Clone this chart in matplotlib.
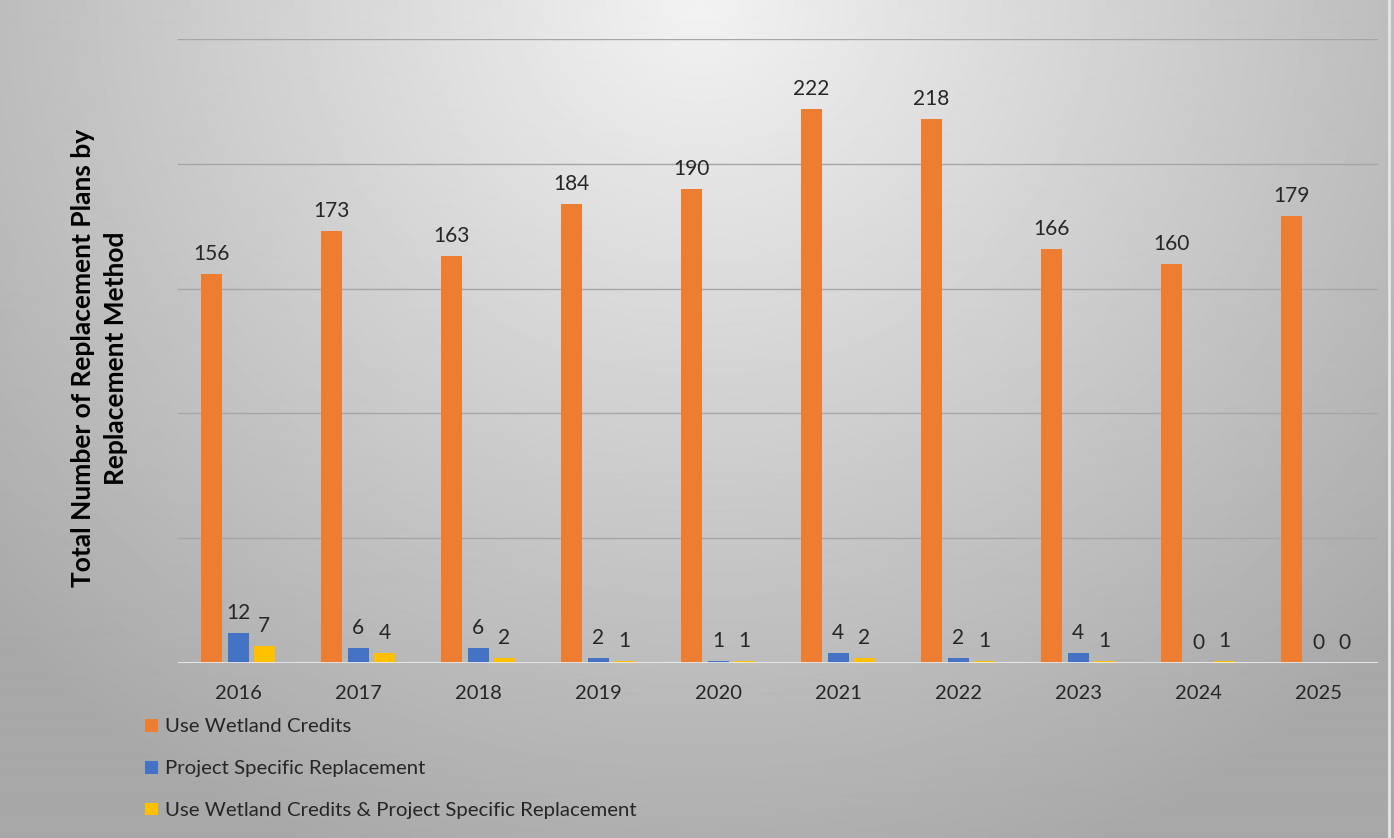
import numpy as np
import matplotlib.pyplot as plt

years = ["2016", "2017", "2018", "2019", "2020", "2021", "2022", "2023", "2024", "2025"]
wetland_credits = [156, 173, 163, 184, 190, 222, 218, 166, 160, 179]
project_specific = [12, 6, 6, 2, 1, 4, 2, 4, 0, 0]
both_methods = [7, 4, 2, 1, 1, 2, 1, 1, 1, 0]

series = [
    ("Use Wetland Credits", wetland_credits, "#ED7D31"),
    ("Project Specific Replacement", project_specific, "#4472C4"),
    ("Use Wetland Credits & Project Specific Replacement", both_methods, "#FFC000"),
]

plt.rcParams['font.family'] = ['Lato', 'DejaVu Sans']

fig = plt.figure(figsize=(13.94, 8.38), dpi=100)

# radial grey background
bg = fig.add_axes([0, 0, 1, 1], zorder=-10)
yy, xx = np.mgrid[0:838, 0:1394]
r = np.sqrt(((xx - 700) / 1000.0) ** 2 + ((yy - 0) / 950.0) ** 2)
shade = np.clip(0.95 - 0.30 * r, 0.66, 0.95)
bg.imshow(shade, cmap="gray", vmin=0, vmax=1, aspect="auto", interpolation="bilinear")
bg.axvline(1388, color="#e6e6e6", lw=2)
bg.axis("off")

ax = fig.add_axes([178 / 1394, 1 - 663 / 838, 1200 / 1394, 624 / 838])
ax.set_facecolor("none")

x = np.arange(len(years))
width = 0.175
step = 0.22
for i, (label, vals, color) in enumerate(series):
    pos = x + (i - 1) * step
    ax.bar(pos, vals, width, color=color, label=label, zorder=3)
    for p, v in zip(pos, vals):
        ax.text(p, v + 4, str(v), ha="center", va="bottom", fontsize=15, color="#262626")

ax.set_ylim(0, 250)
ax.set_xlim(-0.5, len(years) - 0.5)
ax.set_yticks(np.arange(50, 251, 50))
ax.yaxis.grid(True, color="#a6a6a6", lw=1)
ax.set_yticklabels([])
ax.tick_params(axis="y", length=0)
ax.axhline(0, color="#ececec", lw=2, zorder=4)
ax.set_xticks(x)
ax.set_xticklabels(years, fontsize=14.5, color="#262626")
ax.tick_params(axis="x", length=0, pad=16)
for s in ax.spines.values():
    s.set_visible(False)

fig.text(100 / 1394, 1 - 358 / 838, "Total Number of Replacement Plans by\nReplacement Method",
         rotation=90, ha="center", va="center", fontsize=19, fontweight="bold",
         color="black", multialignment="center", linespacing=1.45)

handles, labels = ax.get_legend_handles_labels()
fig.legend(handles, labels, loc="upper left", bbox_to_anchor=(127 / 1394, 1 - 700 / 838),
           frameon=False, fontsize=14.7, handlelength=0.6, handleheight=0.6,
           handletextpad=0.35, labelspacing=1.22, labelcolor="#262626")

plt.savefig("out.png", dpi=100)
